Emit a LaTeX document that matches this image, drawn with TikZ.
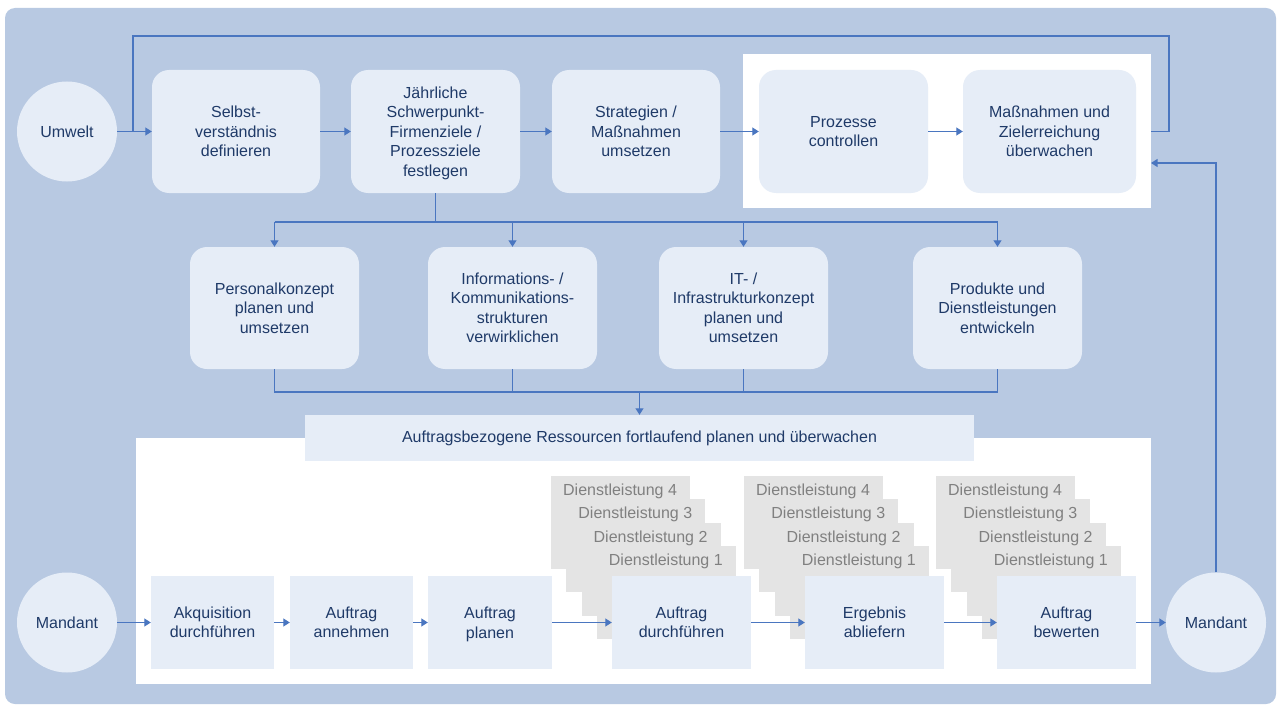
\documentclass[tikz,border=0pt]{standalone}
\usepackage{fontspec}
\setmainfont{Liberation Sans}
\usetikzlibrary{arrows.meta,calc}
\definecolor{bg}{HTML}{B8C9E2}
\definecolor{boxfill}{HTML}{E6EDF7}
\definecolor{txt}{HTML}{1F3A68}
\definecolor{arr}{HTML}{4A76C0}
\definecolor{dlfill}{HTML}{E4E4E4}
\definecolor{dltxt}{HTML}{808080}
\begin{document}
\begin{tikzpicture}[x=1pt,y=-1pt,
  every node/.style={font=\fontsize{16}{19.5}\selectfont, text=txt, align=center, inner sep=0pt},
  rbox/.style={fill=boxfill, rounded corners=17pt, minimum height=123},
  rbox2/.style={fill=boxfill, rounded corners=17pt, minimum width=169, minimum height=122},
  circ/.style={circle, fill=boxfill, minimum size=100},
  sbox/.style={fill=boxfill, minimum height=93},
  panel/.style={fill=white},
  dlbox/.style={fill=dlfill, minimum width=139, minimum height=93},
  dltext/.style={text=dltxt},
  conn/.style={draw=arr, line width=1.1pt},
  arrow/.style={conn, -{Triangle[length=6.5pt,width=8pt]}}
]
\useasboundingbox (0,0) rectangle (1277,706);
\fill[white] (0,0) rectangle (1277,706);
\fill[bg, rounded corners=10pt] (5,8) rectangle (1276,704);

% panels
\node[panel, minimum width=408, minimum height=154] (toppanel) at (947,131) {};
\node[panel, minimum width=1015, minimum height=246] (botpanel) at (643.5,561) {};

% top row
\node[circ] (umwelt) at (67,131.5) {Umwelt};
\node[rbox, minimum width=168] (selbst) at (236,131.5) {Selbst-\\verständnis\\definieren};
\node[rbox, minimum width=169, text depth=0pt] (jahr) at (435.5,131.5) {Jährliche\\Schwerpunkt-\\Firmenziele /\\Prozessziele\\festlegen};
\node[rbox, minimum width=168] (strat) at (636,131.5) {Strategien /\\Maßnahmen\\umsetzen};
\node[rbox, minimum width=169] (proz) at (843.5,131.5) {Prozesse\\controllen};
\node[rbox, minimum width=173] (massn) at (1049.5,131.5) {Maßnahmen und\\Zielerreichung\\überwachen};

% second row
\node[rbox2] (personal) at (274.5,308) {Personalkonzept\\planen und\\umsetzen};
\node[rbox2] (info) at (512.5,308) {Informations- /\\Kommunikations-\\strukturen\\verwirklichen};
\node[rbox2] (it) at (743.5,308) {IT- /\\Infrastrukturkonzept\\planen und\\umsetzen};
\node[rbox2] (produkte) at (997.5,308) {Produkte und\\Dienstleistungen\\entwickeln};

% bar
\node[fill=boxfill, minimum width=669, minimum height=46] (bar) at (639.5,438) {Auftragsbezogene Ressourcen fortlaufend planen und überwachen};

% stacks
\foreach \m/\cx in {s1/681.5, s2/874.5, s3/1066.5} {
  \foreach \k/\dy in {4/100, 3/76.7, 2/53.3, 1/30} {
    \node[dlbox] (\m-d\k) at (\cx-15.25*\k, 622.5-\dy) {};
    \node[dltext, anchor=east] (\m-t\k) at ($(\m-d\k.north east)+(-13,15.5)$) {Dienstleistung\ \k};
  }
}

% bottom row
\node[circ] (mandL) at (67,622.5) {Mandant};
\node[sbox, minimum width=123] (akq) at (212.5,622.5) {Akquisition\\durchführen};
\node[sbox, minimum width=123] (annehmen) at (351.5,622.5) {Auftrag\\annehmen};
\node[sbox, minimum width=124, text depth=0pt] (planen) at (490,622.5) {Auftrag\\planen};
\node[sbox, minimum width=139] (durch) at (681.5,622.5) {Auftrag\\durchführen};
\node[sbox, minimum width=139] (ergebnis) at (874.5,622.5) {Ergebnis\\abliefern};
\node[sbox, minimum width=139] (bewerten) at (1066.5,622.5) {Auftrag\\bewerten};
\node[circ] (mandR) at (1216,622.5) {Mandant};

% top arrows
\draw[arrow] (umwelt) -- (selbst);
\draw[arrow] (selbst) -- (jahr);
\draw[arrow] (jahr) -- (strat);
\draw[arrow] (strat) -- (proz);
\draw[arrow] (proz) -- (massn);

% feedback loop
\coordinate (loopR) at (1169,36);
\coordinate (loopJ) at (133,131.5);
\draw[conn] (toppanel.east |- massn.east) -| (loopR) -| (loopJ);
\coordinate (fbin) at (1151,163);
\draw[arrow] (mandR.north) |- (fbin);

% branching
\coordinate (br) at (0,222);
\draw[conn] (jahr.south) -- (jahr.south |- br);
\draw[conn] (personal.north |- br) -- (produkte.north |- br);
\foreach \n in {personal,info,it,produkte} {
  \draw[arrow] (\n.north |- br) -- (\n.north);
}

% merge
\coordinate (mg) at (0,392);
\draw[conn] (personal.south) -- (personal.south |- mg) -- (produkte.south |- mg) -- (produkte.south);
\draw[conn] (info.south) -- (info.south |- mg);
\draw[conn] (it.south) -- (it.south |- mg);
\draw[arrow] (bar.north |- mg) -- (bar.north);

% bottom arrows
\draw[arrow] (mandL) -- (akq);
\draw[arrow] (akq) -- (annehmen);
\draw[arrow] (annehmen) -- (planen);
\draw[arrow] (planen) -- (durch);
\draw[arrow] (durch) -- (ergebnis);
\draw[arrow] (ergebnis) -- (bewerten);
\draw[arrow] (bewerten) -- (mandR);
\end{tikzpicture}
\end{document}
